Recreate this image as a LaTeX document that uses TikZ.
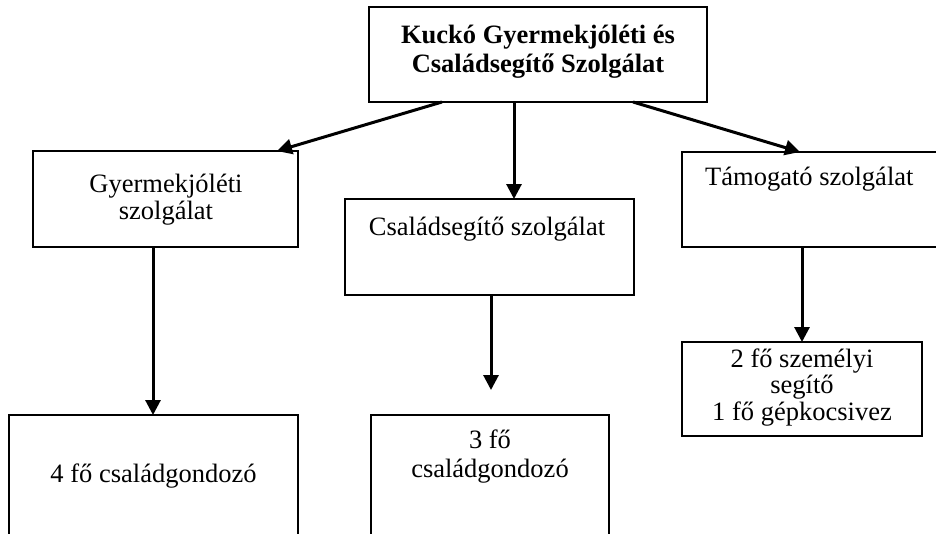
\documentclass[tikz,border=0pt]{standalone}
\usepackage{fontspec}
\setmainfont{Liberation Serif}
\usetikzlibrary{arrows.meta}
\tikzset{
  box/.style={draw=black, line width=2pt, rectangle, inner sep=0pt, outer sep=0pt},
  lbl/.style={anchor=base, inner sep=0pt, font=\fontsize{26.5}{28}\selectfont},
  arr/.style={line width=3pt, -{Triangle[length=15pt,width=15pt]}},
}
\begin{document}
\begin{tikzpicture}[x=1pt,y=-1pt]
\useasboundingbox (0,0) rectangle (936,533);
\clip (0,0) rectangle (936,533);
\fill[white] (0,0) rectangle (936,533);
% boxes
\node[box, minimum width=338pt, minimum height=95pt] (top) at (538,54.5) {};
\node[box, minimum width=265pt, minimum height=96pt] (left) at (165.5,199) {};
\node[box, minimum width=289pt, minimum height=96pt] (mid) at (489.5,247) {};
\node[box, minimum width=258pt, minimum height=95pt] (right) at (811,199.5) {};
\node[box, minimum width=289pt, minimum height=125pt] (bl) at (153.5,477.5) {};
\node[box, minimum width=238pt, minimum height=125pt] (bm) at (490,477.5) {};
\node[box, minimum width=240pt, minimum height=94pt] (br) at (802,389) {};
% texts
\node[lbl, font=\fontsize{26.5}{28}\selectfont\bfseries] (t1) at (538,43) {Kuckó Gyermekjóléti és};
\node[lbl, font=\fontsize{26.5}{28}\selectfont\bfseries] (t2) at (538,72) {Családsegítő Szolgálat};
\node[lbl] (l1) at (166,192) {Gyermekjóléti};
\node[lbl] (l2) at (166,219) {szolgálat};
\node[lbl] (m1) at (487,235) {Családsegítő szolgálat};
\node[lbl, anchor=base west] (r1) at (705,185) {Támogató szolgálat};
\node[lbl] (bl1) at (153.5,482) {4 fő családgondozó};
\node[lbl] (bm1) at (490,448) {3 fő};
\node[lbl] (bm2) at (490,477) {családgondozó};
\node[lbl] (br1) at (802,367) {2 fő személyi};
\node[lbl] (br2) at (802,393) {segítő};
\node[lbl] (br3) at (802,420) {1 fő gépkocsivez};
% connectors
\coordinate (mend) at (491,390);
\draw[arr] ([xshift=-96pt]top.south) -- ([xshift=111.5pt]left.north);
\draw[arr] ([xshift=-24pt]top.south) -- ([xshift=24.5pt]mid.north);
\draw[arr] ([xshift=95pt]top.south) -- ([xshift=-11pt]right.north);
\draw[arr] ([xshift=-12.5pt]left.south) -- ([xshift=-0.5pt]bl.north);
\draw[arr] ([xshift=1.5pt]mid.south) -- (mend);
\draw[arr] ([xshift=-9pt]right.south) -- (br.north);
\end{tikzpicture}
\end{document}
